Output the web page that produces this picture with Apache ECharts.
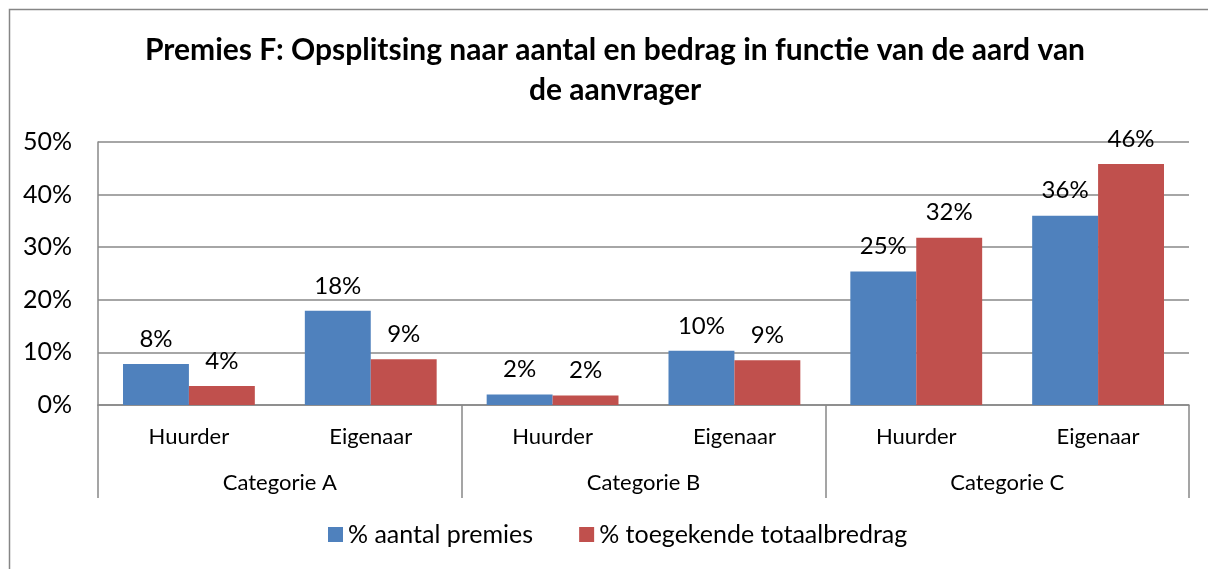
<!DOCTYPE html>
<html>
<head>
<meta charset="utf-8">
<script src="https://cdn.jsdelivr.net/npm/echarts@6/dist/echarts.min.js"></script>
<style>
html,body{margin:0;padding:0;background:#fff;}
#c{width:1208px;height:569px;}
</style>
</head>
<body>
<div id="c"></div>
<script>
var titleLines = ['Premies F: Opsplitsing naar aantal en bedrag in functie van de aard van', 'de aanvrager'];
var subCategories = ['Huurder', 'Eigenaar', 'Huurder', 'Eigenaar', 'Huurder', 'Eigenaar'];
var groupCategories = ['Categorie A', 'Categorie B', 'Categorie C'];
var seriesNames = ['% aantal premies', '% toegekende totaalbredrag'];
var aantalPremies = [7.8, 17.9, 2.0, 10.3, 25.4, 36.0];
var totaalBedrag = [3.6, 8.7, 1.8, 8.5, 31.8, 45.8];
var yTicks = [0, 10, 20, 30, 40, 50];

var FONT = 'Lato';
var chart = echarts.init(document.getElementById('c'), null, {renderer: 'canvas'});
var labelCfg = {
  show: true, position: 'top', distance: 13, color: '#000',
  fontFamily: FONT, fontSize: 24,
  formatter: function (p) { return Math.round(p.value) + '%'; }
};
var titleStyle = {fontFamily: FONT, fontWeight: 'bold', fontSize: 30, color: '#000', lineHeight: 40};
chart.setOption({
  animation: false,
  backgroundColor: '#fff',
  graphic: [{
    type: 'rect', shape: {x: 9.5, y: 9.5, width: 1220, height: 600},
    style: {fill: 'none', stroke: '#868686', lineWidth: 1.5}, silent: true
  }],
  title: [
    {text: titleLines[0], left: 140, top: 25, textStyle: titleStyle},
    {text: titleLines[1], left: 524, top: 65, textStyle: titleStyle}
  ],
  legend: {
    bottom: 17, left: 323, itemWidth: 15, itemHeight: 15, itemGap: 46,
    icon: 'rect',
    textStyle: {fontFamily: FONT, fontSize: 25, color: '#000'},
    data: seriesNames
  },
  grid: {left: 98, right: 19, top: 142, bottom: 164},
  xAxis: [{
    type: 'category', data: subCategories, position: 'bottom',
    axisLine: {show: true, lineStyle: {color: '#888', width: 1.5}},
    axisTick: {show: false},
    axisLabel: {fontFamily: FONT, fontSize: 22, color: '#000', margin: 21, interval: 0}
  }, {
    type: 'category', data: groupCategories, position: 'bottom',
    axisLine: {show: false},
    axisTick: {show: true, length: 93, lineStyle: {color: '#888', width: 1.5}},
    axisLabel: {fontFamily: FONT, fontSize: 22, color: '#000', margin: 67, interval: 0}
  }],
  yAxis: {
    type: 'value', min: 0, max: 50, interval: 10,
    axisLine: {show: true, lineStyle: {color: '#888', width: 1.5}},
    axisTick: {show: false},
    splitLine: {show: true, lineStyle: {color: '#888', width: 1.5}},
    axisLabel: {fontFamily: FONT, fontSize: 25, color: '#000', margin: 26,
      formatter: function (v) { return yTicks.indexOf(v) >= 0 ? v + '%' : ''; }}
  },
  series: [{
    name: seriesNames[0], type: 'bar', xAxisIndex: 0, data: aantalPremies,
    barGap: '0%', barCategoryGap: '27.5%',
    itemStyle: {color: '#4F81BD'}, label: labelCfg
  }, {
    name: seriesNames[1], type: 'bar', xAxisIndex: 0, data: totaalBedrag,
    barGap: '0%', barCategoryGap: '27.5%',
    itemStyle: {color: '#C0504D'}, label: labelCfg
  }]
});
</script>
</body>
</html>
